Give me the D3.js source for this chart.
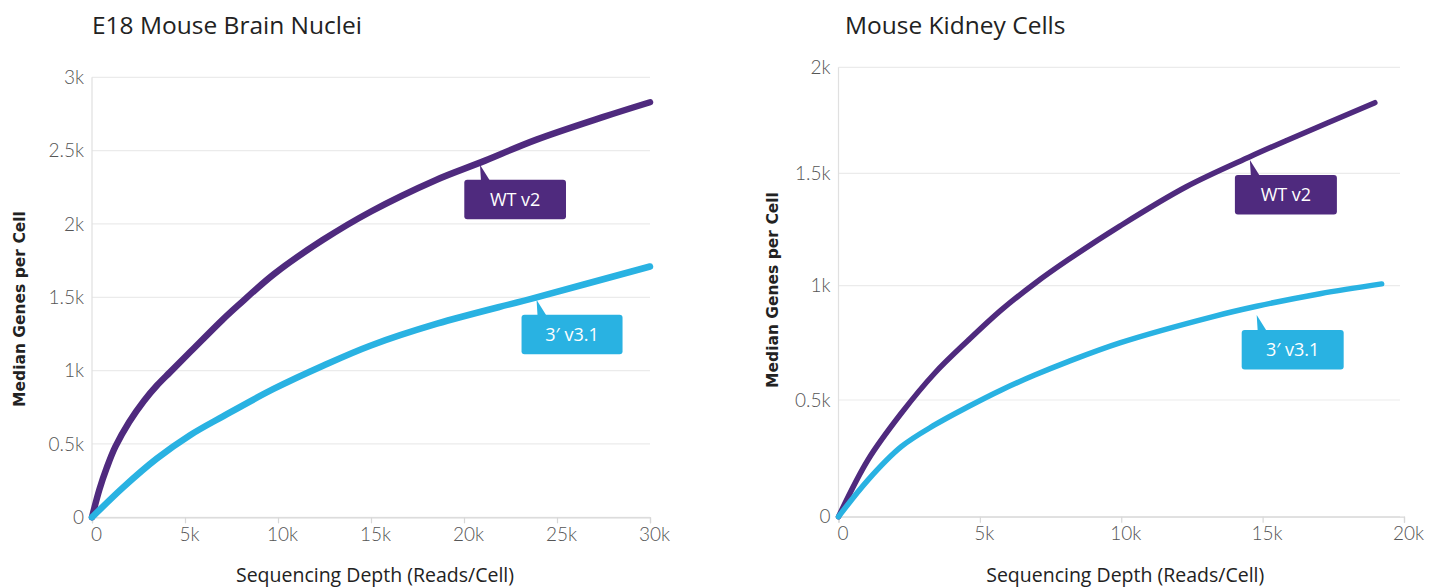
<!DOCTYPE html>
<html><head><meta charset="utf-8">
<script src="https://cdn.jsdelivr.net/npm/d3@7"></script>
<style>
body{margin:0;background:#fff;}
svg{display:block;}
.tick text{font-family:Lato,"Open Sans",sans-serif;font-weight:300;fill:#555;}
</style></head>
<body><svg id="c" width="1429" height="587"></svg>
<script>
// ---- data ----
const brainDepth    = [0, 400, 800, 1250, 2000, 2800, 3500, 4200, 5300, 7000, 7900, 9800, 12400, 15000, 18500, 20900, 23900, 27500, 30000];
const brainWT       = [0, 190, 340, 480, 650, 795, 900, 990, 1130, 1345, 1450, 1660, 1890, 2085, 2300, 2420, 2575, 2730, 2830];
const brainV31Depth = [0, 1690, 3480, 5270, 7070, 9760, 12450, 14960, 18550, 23900, 30000];
const brainV31      = [0, 206, 400, 560, 690, 875, 1035, 1170, 1320, 1500, 1710];
const kidneyDepth   = [0, 1040, 2220, 3400, 4580, 5760, 6940, 8120, 9950, 12300, 14550, 15850, 18970];
const kidneyWT      = [0, 243, 443, 617, 760, 894, 1010, 1115, 1265, 1440, 1578, 1655, 1833];
const kidneyV31Depth= [0, 1040, 2220, 3400, 4580, 5760, 6940, 8120, 9950, 13250, 14790, 17030, 19210];
const kidneyV31     = [0, 157, 300, 393, 471, 544, 609, 668, 750, 865, 910, 965, 1008];
const brainXTicks   = [0, 5000, 10000, 15000, 20000, 25000, 30000];
const brainYTicks   = [0, 500, 1000, 1500, 2000, 2500, 3000];
const kidneyXTicks  = [0, 5000, 10000, 15000, 20000];
const kidneyYTicks  = [0, 500, 1000, 1500, 2000];
const seriesNames   = ["WT v2", "3\u2032 v3.1"];
const titles        = ["E18 Mouse Brain Nuclei", "Mouse Kidney Cells"];
const xTitle = "Sequencing Depth (Reads/Cell)";
const yTitle = "Median Genes per Cell";

const PURPLE = "#4f2a7e", CYAN = "#29b2e2";
const fmt = v => v === 0 ? "0" : (v/1000) + "k";
const svg = d3.select("#c");

function panel(cfg){
  const g = svg.append("g");
  const x = d3.scaleLinear().domain(cfg.xDom).range([cfg.x0, cfg.x1]);
  const y = d3.scaleLinear().domain(cfg.yDom).range(cfg.yRange);
  const yTop = cfg.yRange[cfg.yRange.length - 1], yBot = cfg.yRange[0];
  // gridlines
  g.append("g").selectAll("line").data(cfg.yTicks).join("line")
    .attr("x1", cfg.x0).attr("x2", cfg.gridX1)
    .attr("y1", d => y(d)).attr("y2", d => y(d))
    .attr("stroke", "#ebebeb").attr("stroke-width", 1.2);
  // left vertical line
  g.append("line").attr("x1", cfg.x0).attr("x2", cfg.x0).attr("y1", yTop).attr("y2", yBot)
    .attr("stroke", "#e0e0e0").attr("stroke-width", 1.2);
  // x axis
  const xa = g.append("g").attr("transform", `translate(0,${yBot})`)
    .call(d3.axisBottom(x).tickValues(cfg.xTicks).tickFormat(fmt).tickSize(6).tickPadding(4));
  xa.select(".domain").attr("stroke", "#d8d8d8").attr("stroke-width", 1.2);
  xa.selectAll(".tick line").attr("stroke", "#d8d8d8").attr("stroke-width", 1.2);
  xa.selectAll("text").attr("font-size", 19).attr("dx", 4).attr("dy", "0.7em");
  // y axis labels
  const ya = g.append("g").attr("transform", `translate(${cfg.x0},0)`)
    .call(d3.axisLeft(y).tickValues(cfg.yTicks).tickFormat(fmt).tickSize(0).tickPadding(8));
  ya.select(".domain").remove();
  ya.selectAll("text").attr("font-size", 19);
  // titles
  g.append("text").attr("x", cfg.titleX).attr("y", 34).text(cfg.title)
    .attr("font-family", "'Open Sans',sans-serif").attr("font-weight", 500).attr("font-size", 24.5).attr("fill", "#222");
  g.append("text").attr("x", (cfg.x0 + cfg.x1)/2 + 4).attr("y", 582).attr("text-anchor", "middle").text(xTitle)
    .attr("font-family", "'Open Sans',sans-serif").attr("font-weight", 500).attr("font-size", 19.5).attr("fill", "#222");
  g.append("text").attr("transform", `translate(${cfg.yTitleX},${cfg.yTitleY}) rotate(-90)`).attr("text-anchor", "middle").text(yTitle)
    .attr("font-family", "'DejaVu Sans',sans-serif").attr("font-weight", 700).attr("font-size", 15.5).attr("fill", "#222");
  // lines
  const line = d3.line().x(d => x(d[0])).y(d => y(d[1])).curve(d3.curveCatmullRom.alpha(0.5));
  cfg.series.forEach(s => {
    g.append("path").datum(d3.zip(s.xs, s.ys)).attr("d", line)
      .attr("fill", "none").attr("stroke", s.color).attr("stroke-width", cfg.sw)
      .attr("stroke-linecap", "round").attr("stroke-linejoin", "round");
  });
  // callouts
  cfg.series.forEach(s => {
    const tipX = x(s.anchor), tipY = y(s.anchorY);
    const bx = tipX + s.bdx, by = tipY + 15, bw = s.bw, bh = 39.5;
    g.append("path").attr("d", `M${tipX},${tipY} L${tipX+1},${by+1} L${tipX+10},${by+1} Z`).attr("fill", s.color);
    g.append("rect").attr("x", bx).attr("y", by).attr("width", bw).attr("height", bh).attr("rx", 3).attr("fill", s.color);
    g.append("text").attr("x", bx + bw/2).attr("y", by + bh/2 + 6.5).attr("text-anchor", "middle").text(s.name)
      .attr("font-family", "'Open Sans',sans-serif").attr("font-weight", 500).attr("font-size", 18).attr("fill", "#fff");
  });
}

panel({
  xDom: [0, 30000], yDom: [0, 3000], x0: 92, x1: 650, gridX1: 650, yRange: [517.3, 77.3], sw: 6.5,
  xTicks: brainXTicks, yTicks: brainYTicks, title: titles[0], titleX: 92, yTitleX: 25, yTitleY: 309,
  series: [
    {name: seriesNames[0], color: PURPLE, xs: brainDepth, ys: brainWT, anchor: 20860, anchorY: 2403, bdx: -15.7, bw: 101.7},
    {name: seriesNames[1], color: CYAN, xs: brainV31Depth, ys: brainV31, anchor: 23900, anchorY: 1483, bdx: -15, bw: 101}
  ]
});
panel({
  xDom: [0, 20000], yDom: [0, 500, 1000, 1500, 2000], x0: 838.5, x1: 1404, gridX1: 1400, yRange: [516.7, 400, 285.7, 173.3, 67.3], sw: 5.5,
  xTicks: kidneyXTicks, yTicks: kidneyYTicks, title: titles[1], titleX: 845, yTitleX: 778, yTitleY: 290,
  series: [
    {name: seriesNames[0], color: PURPLE, xs: kidneyDepth, ys: kidneyWT, anchor: 14550, anchorY: 1563, bdx: -15, bw: 102},
    {name: seriesNames[1], color: CYAN, xs: kidneyV31Depth, ys: kidneyV31, anchor: 14790, anchorY: 872, bdx: -15, bw: 102}
  ]
});
</script></body></html>
